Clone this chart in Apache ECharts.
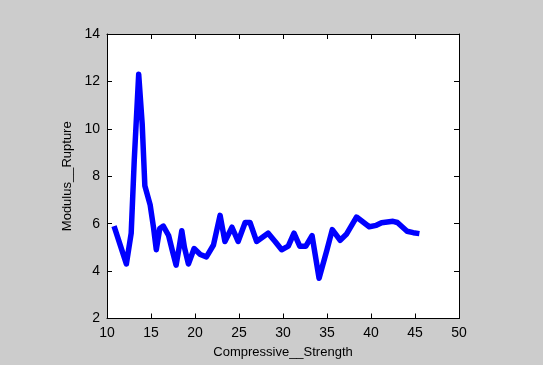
<!DOCTYPE html>
<html>
<head>
<meta charset="utf-8">
<script src="https://cdn.jsdelivr.net/npm/echarts@6/dist/echarts.min.js"></script>
<style>
html,body{margin:0;padding:0;background:#cccccc;}
#c{width:543px;height:365px;}
</style>
</head>
<body>
<div id="c"></div>
<script>
var strength = [10.8,12.2,12.75,13.1,13.6,14.0,14.3,14.9,15.3,15.6,16.0,16.4,17.0,17.4,17.85,18.2,18.5,18.8,19.25,19.9,20.6,21.3,22.1,22.85,23.4,24.2,24.9,25.7,26.25,27.0,28.3,29.1,29.85,30.6,31.25,31.9,32.6,33.3,34.1,35.0,35.6,36.5,37.2,38.35,39.8,40.6,41.2,42.5,43.0,44.1,44.8,45.5];
var rupture = [5.9,4.3,5.6,8.7,12.3,10.2,7.6,6.8,5.8,4.9,5.8,5.9,5.5,4.9,4.25,5.0,5.7,5.0,4.3,4.95,4.7,4.6,5.1,6.35,5.25,5.85,5.25,6.05,6.05,5.25,5.6,5.25,4.9,5.05,5.6,5.05,5.05,5.5,3.7,4.9,5.75,5.3,5.55,6.28,5.87,5.93,6.04,6.1,6.05,5.68,5.62,5.58];
var xTicks = [10,15,20,25,30,35,40,45,50];
var yTicks = [2,4,6,8,10,12,14];

var pts = strength.map(function(x,i){return [x, rupture[i]];});
var font = 'Liberation Sans, Arial, sans-serif';
function ax(extra){
  var base = {
    type:'value',
    axisLine:{show:true,onZero:false,lineStyle:{color:'#000',width:1}},
    axisTick:{show:true,inside:true,length:5,lineStyle:{color:'#000'}},
    splitLine:{show:false},
    axisLabel:{color:'#000',fontFamily:font,fontSize:14}
  };
  for (var k in extra) base[k]=extra[k];
  return base;
}
var chart = echarts.init(document.getElementById('c'));
chart.setOption({
  animation:false,
  backgroundColor:'#cccccc',
  grid:{left:107,right:84,top:34,bottom:46.5,show:true,backgroundColor:'#ffffff',borderWidth:0},
  xAxis:[
    ax({min:xTicks[0],max:xTicks[xTicks.length-1],interval:5,position:'bottom',
       name:'Compressive__Strength',nameLocation:'middle',nameGap:27,
       nameTextStyle:{color:'#000',fontFamily:font,fontSize:13},
       axisLabel:{color:'#000',fontFamily:font,fontSize:14,margin:8}}),
    ax({min:xTicks[0],max:xTicks[xTicks.length-1],interval:5,position:'top',axisLabel:{show:false}})
  ],
  yAxis:[
    ax({min:yTicks[0],max:yTicks[yTicks.length-1],interval:2,position:'left',
       name:'Modulus__Rupture',nameLocation:'middle',nameGap:27,nameRotate:90,
       nameTextStyle:{color:'#000',fontFamily:font,fontSize:13},
       axisLabel:{color:'#000',fontFamily:font,fontSize:14,margin:7}}),
    ax({min:yTicks[0],max:yTicks[yTicks.length-1],interval:2,position:'right',axisLabel:{show:false}})
  ],
  series:[{
    type:'line',
    data:pts,
    showSymbol:false,
    symbol:'none',
    lineStyle:{color:'#0000ff',width:5.5,join:'round'},
    xAxisIndex:0,yAxisIndex:0
  }]
});
</script>
</body>
</html>
